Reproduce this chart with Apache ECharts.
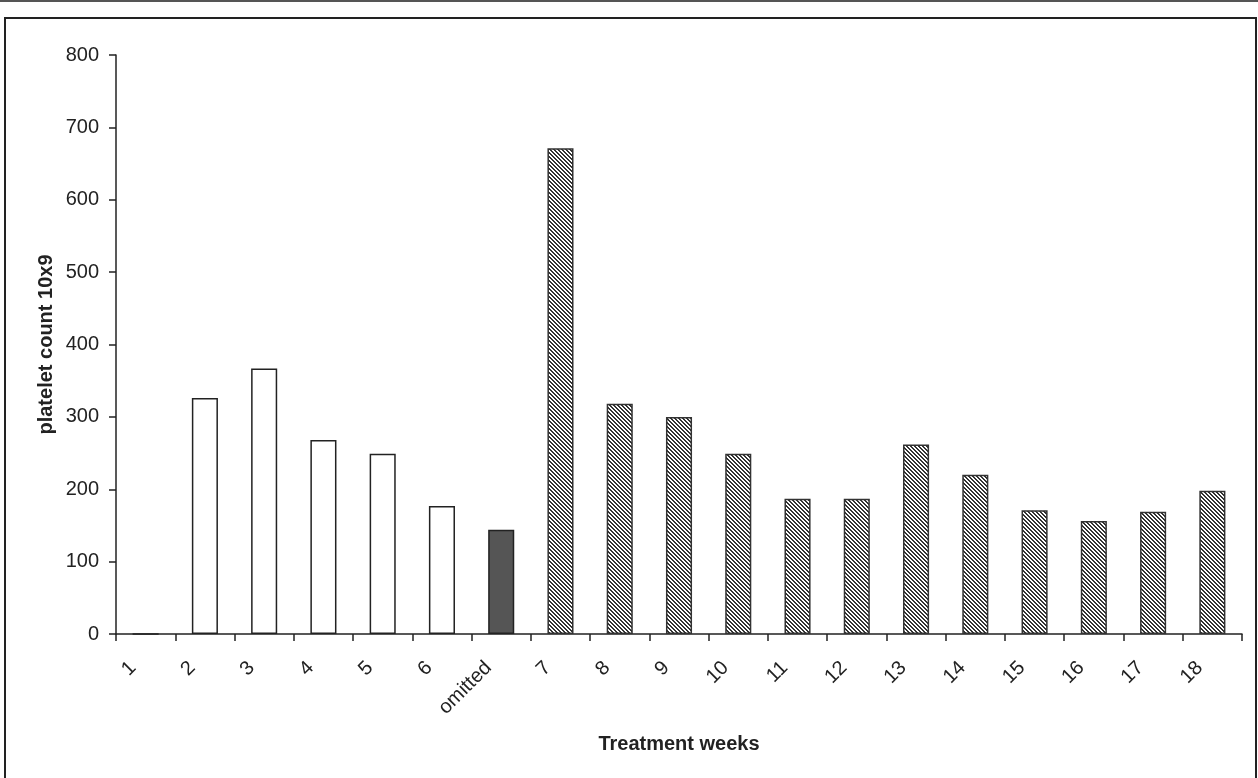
<!DOCTYPE html>
<html>
<head>
<meta charset="utf-8">
<script src="https://cdn.jsdelivr.net/npm/echarts@6/dist/echarts.min.js"></script>
<style>
html,body{margin:0;padding:0;background:#fff;}
#chart{width:1258px;height:778px;}
</style>
</head>
<body>
<div id="chart"></div>
<script>
var categories = ['1','2','3','4','5','6','omitted','7','8','9','10','11','12','13','14','15','16','17','18'];
var plateletValues = [0, 326, 367, 268, 249, 177, 144, 671, 318, 300, 249, 187, 187, 262, 220, 171, 156, 169, 198];
var barGroups = ['white','white','white','white','white','white','dark','hatch','hatch','hatch','hatch','hatch','hatch','hatch','hatch','hatch','hatch','hatch','hatch'];
var yTicks = [0, 100, 200, 300, 400, 500, 600, 700, 800];

function makeHatch() {
  var c = document.createElement('canvas');
  c.width = 4; c.height = 4;
  var ctx = c.getContext('2d');
  ctx.fillStyle = '#ffffff';
  ctx.fillRect(0, 0, 4, 4);
  ctx.fillStyle = '#333333';
  for (var i = 0; i < 4; i++) {
    ctx.fillRect(i, i, 1, 1);
    ctx.fillRect((i + 1) % 4, i, 1, 1);
  }
  return c;
}
var hatch = makeHatch();

var styles = {
  white: { color: '#ffffff', borderColor: '#222', borderWidth: 1.5 },
  dark: { color: '#555555', borderColor: '#222', borderWidth: 1.5 },
  hatch: { color: { image: hatch, repeat: 'repeat' }, borderColor: '#333', borderWidth: 1.5 }
};

var data = plateletValues.map(function (v, i) {
  return { value: v, itemStyle: styles[barGroups[i]] };
});

var chart = echarts.init(document.getElementById('chart'));
chart.setOption({
  animation: false,
  backgroundColor: '#fff',
  textStyle: { fontFamily: 'Liberation Sans, Arial, sans-serif' },
  grid: { left: 116, top: 55, right: 16, bottom: 144 },
  graphic: [
    { type: 'line', shape: { x1: 0, y1: 1, x2: 1258, y2: 1 }, style: { stroke: '#555', lineWidth: 2 } },
    { type: 'rect', shape: { x: 5, y: 18, width: 1251, height: 800 }, style: { fill: 'none', stroke: '#222', lineWidth: 2 } }
  ],
  xAxis: {
    type: 'category',
    data: categories,
    name: 'Treatment weeks',
    nameLocation: 'middle',
    nameGap: 100,
    nameTextStyle: { fontSize: 20, fontWeight: 'bold', color: '#222', fontFamily: 'Liberation Sans' },
    axisLine: { lineStyle: { color: '#222', width: 1.5 } },
    axisTick: { show: true, length: 7, lineStyle: { color: '#222', width: 1.5 } },
    axisLabel: { rotate: 45, fontSize: 20, color: '#222', margin: 18, padding: [0, 18, 0, 0], interval: 0, fontFamily: 'Liberation Sans' },
    splitLine: { show: false }
  },
  yAxis: {
    type: 'value',
    min: yTicks[0],
    max: yTicks[yTicks.length - 1],
    interval: 100,
    name: 'platelet count 10x9',
    nameLocation: 'middle',
    nameGap: 60,
    nameMoveOverlap: false,
    nameTextStyle: { fontSize: 20, fontWeight: 'bold', color: '#222', fontFamily: 'Liberation Sans' },
    axisLine: { show: true, lineStyle: { color: '#222', width: 1.5 } },
    axisTick: { show: true, length: 7, lineStyle: { color: '#222', width: 1.5 } },
    axisLabel: { fontSize: 20, color: '#222', margin: 17, fontFamily: 'Liberation Sans' },
    splitLine: { show: false }
  },
  series: [{
    type: 'bar',
    data: data,
    barWidth: '44%'
  }]
});
</script>
</body>
</html>
